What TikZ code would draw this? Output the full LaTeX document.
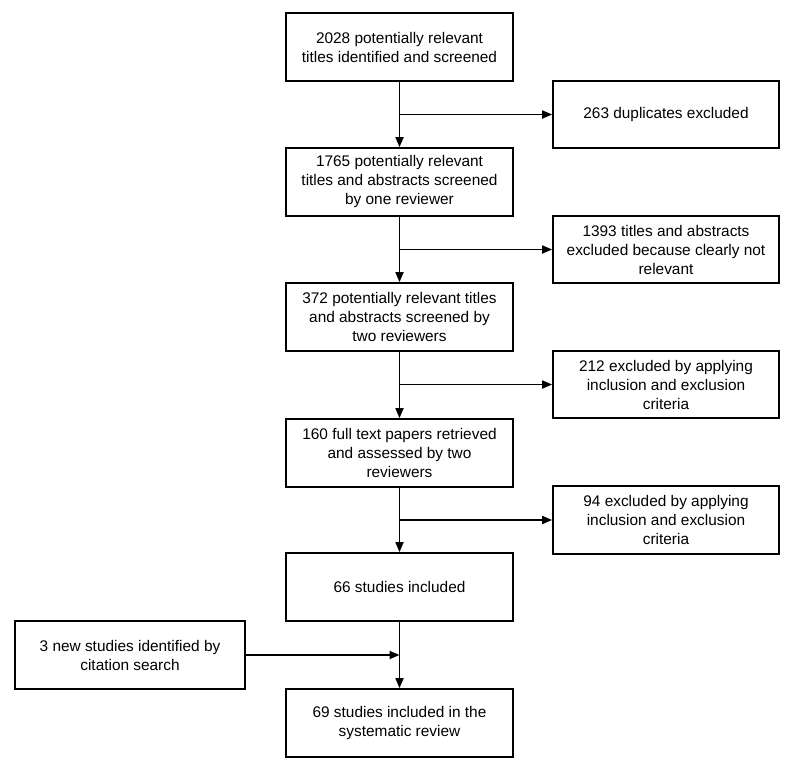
\documentclass[tikz,border=0pt]{standalone}
\usepackage{fontspec}
\setmainfont{Liberation Sans}
\usetikzlibrary{arrows.meta}
\begin{document}
\begin{tikzpicture}[x=1pt,y=-1pt,
  box/.style={draw,line width=1.7pt,minimum width=#1,inner sep=0pt,align=center,font=\fontsize{15.4}{19}\selectfont},
  box/.default=227pt,
  arr/.style={line width=1.7pt,-{Triangle[length=10pt,width=8pt]}},
  ln/.style={line width=1.7pt}]
\useasboundingbox (0,0) rectangle (800,769);
\node[box,minimum height=68pt] (b1) at (399.5,47) {2028 potentially relevant\\titles identified and screened};
\node[box,minimum height=68pt] (b2) at (399.5,182) {1765 potentially relevant\\titles and abstracts screened\\by one reviewer};
\node[box,minimum height=68pt] (b3) at (399.5,317) {372 potentially relevant titles\\and abstracts screened by\\two reviewers};
\node[box,minimum height=68pt] (b4) at (399.5,453) {160 full text papers retrieved\\and assessed by two\\reviewers};
\node[box,minimum height=68pt] (b5) at (399.5,587) {66 studies included};
\node[box,minimum height=68pt] (b6) at (399.5,723) {69 studies included in the\\systematic review};
\node[box=226pt,minimum height=67pt] (r1) at (666,114.5) {263 duplicates excluded};
\node[box=226pt,minimum height=67pt] (r2) at (666,249.5) {1393 titles and abstracts\\excluded because clearly not\\relevant};
\node[box=226pt,minimum height=67pt] (r3) at (666,384.5) {212 excluded by applying\\inclusion and exclusion\\criteria};
\node[box=226pt,minimum height=68pt] (r4) at (666,520) {94 excluded by applying\\inclusion and exclusion\\criteria};
\node[box=230pt,minimum height=68pt] (l1) at (130,655) {3 new studies identified by\\citation search};
\draw[arr] (b1) -- (b2);
\draw[arr] (b2) -- (b3);
\draw[arr] (b3) -- (b4);
\draw[arr] (b4) -- (b5);
\draw[arr] (b5) -- (b6);
\coordinate (j1) at (b1.south |- r1.west);
\coordinate (j2) at (b2.south |- r2.west);
\coordinate (j3) at (b3.south |- r3.west);
\coordinate (j4) at (b4.south |- r4.west);
\coordinate (j5) at (b5.south |- l1.east);
\draw[arr] (j1) -- (r1.west);
\draw[arr] (j2) -- (r2.west);
\draw[arr] (j3) -- (r3.west);
\draw[arr] (j4) -- (r4.west);
\draw[arr] (l1.east) -- (j5);
\end{tikzpicture}
\end{document}
